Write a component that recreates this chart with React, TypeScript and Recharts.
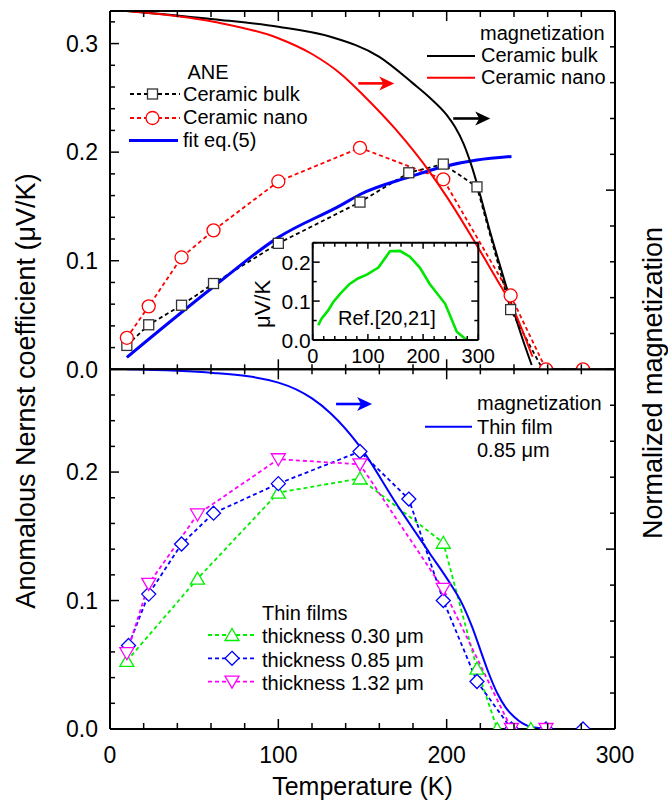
import React from 'react';
import { ComposedChart, LineChart, Line, XAxis, YAxis, ReferenceDot } from 'recharts';

const FONT = '"Liberation Sans", Arial, Helvetica, sans-serif';

// ---------- ticks ----------
const xTicks = [0, 20, 40, 60, 80, 100, 120, 140, 160, 180, 200, 220, 240, 260, 280, 300];
const xMajor = [0, 100, 200, 300];
const xLabels = ['0', '100', '200', '300'];
const topYTicks = [0, 0.02, 0.04, 0.06, 0.08, 0.1, 0.12, 0.14, 0.16, 0.18, 0.2, 0.22, 0.24, 0.26, 0.28, 0.3, 0.32];
const topYMajor = [0, 0.1, 0.2, 0.3];
const topYLabels = ['0.0', '0.1', '0.2', '0.3'];
const botYTicks = [0, 0.02, 0.04, 0.06, 0.08, 0.1, 0.12, 0.14, 0.16, 0.18, 0.2, 0.22, 0.24, 0.26];
const botYMajor = [0, 0.1, 0.2];
const botYLabels = ['0.0', '0.1', '0.2'];
const magTicks = [0, 0.1, 0.2, 0.3, 0.4, 0.5, 0.6, 0.7, 0.8, 0.9, 1];
const magMajor = [0, 0.5, 1];
const insetXTicks = [0, 20, 40, 60, 80, 100, 120, 140, 160, 180, 200, 220, 240, 260, 280, 300];
const insetXMajor = [0, 100, 200, 300];
const insetXLabels = ['0', '100', '200', '300'];
const insetYTicks = [0, 0.05, 0.1, 0.15, 0.2, 0.25];
const insetYMajor = [0, 0.1, 0.2];
const insetYLabels = ['0.0', '0.1', '0.2'];

// ---------- top panel data ----------
const bulkT = [10, 23, 42.5, 61.5, 100, 148.5, 177.5, 198, 218, 238, 257];
const bulkANE = [0.022, 0.041, 0.059, 0.079, 0.116, 0.154, 0.181, 0.189, 0.168, 0.055, 0];
const nanoT = [10, 23, 42.5, 61.5, 100, 148.5, 198, 238, 259, 281];
const nanoANE = [0.029, 0.058, 0.103, 0.128, 0.173, 0.204, 0.175, 0.068, 0, 0];
const fitT = [10, 61.5, 100, 137, 148.5, 177.5, 198, 218, 238.5];
const fitANE = [0.011, 0.076, 0.1215, 0.151, 0.161, 0.177, 0.1866, 0.1927, 0.196];
const magBulkT = [10, 61.5, 100, 131, 160, 180, 190, 200, 205, 210, 215, 220, 226, 232, 238, 244, 250.5];
const magBulk = [1.0, 0.977, 0.956, 0.928, 0.872, 0.798, 0.758, 0.71, 0.676, 0.63, 0.565, 0.485, 0.38, 0.285, 0.19, 0.1, 0.012];
const magNanoT = [10, 61.5, 100, 120, 137, 150.5, 170, 190.5, 200, 216, 230, 238, 251];
const magNano = [1.0, 0.97, 0.924, 0.88, 0.825, 0.765, 0.668, 0.547, 0.482, 0.361, 0.249, 0.184, 0.035];

// ---------- inset data ----------
const refT = [10, 16, 28, 37, 50, 67, 82, 98, 119, 140, 158, 176, 194, 212, 240, 261, 279];
const refANE = [0.038, 0.055, 0.076, 0.097, 0.119, 0.144, 0.158, 0.168, 0.186, 0.228, 0.229, 0.214, 0.186, 0.144, 0.093, 0.021, 0.0];

// ---------- bottom panel data ----------
const f30T = [10, 52, 100, 148.5, 198, 218, 230, 250];
const f30 = [0.053, 0.117, 0.184, 0.195, 0.145, 0.047, 0.0, 0.0];
const f85T = [11, 23, 42.5, 61.5, 100, 148.5, 177.5, 198, 218, 238.5, 259, 281];
const f85 = [0.065, 0.105, 0.144, 0.168, 0.191, 0.216, 0.179, 0.1, 0.037, 0, 0, 0];
const f132T = [10, 23, 52, 100, 148.5, 198, 238.5, 259];
const f132 = [0.059, 0.113, 0.167, 0.21, 0.206, 0.109, 0, 0];
const filmMagT = [10, 61.5, 100, 120, 131, 148.5, 170, 190, 202, 209, 215, 220, 225, 230, 235, 240, 250, 261];
const filmMag = [1.0, 0.99, 0.963, 0.919, 0.878, 0.785, 0.627, 0.488, 0.405, 0.35, 0.285, 0.22, 0.155, 0.1, 0.06, 0.034, 0.006, 0];

// arrows (start T, normalized magnetization)
const arrowRed = { T: 147.5, m: 0.798 };
const arrowBlack = { T: 203.9, m: 0.7 };
const arrowBlue = { T: 134.3, m: 0.9035 };

const zip = (xs: number[], ys: number[]) => xs.map((T, i) => ({ T, v: ys[i] }));

type Dir = 'up' | 'down' | 'left' | 'right';
function makeTick(
  dir: Dir,
  major: number[],
  majorLen: number,
  minorLen: number,
  label?: { labels: string[]; size: number; off: number }
) {
  return (p: any) => {
    const v = Number(p.payload?.value);
    const mi = major.findIndex((m) => Math.abs(m - v) < 1e-9);
    const isMajor = mi >= 0;
    const len = isMajor ? majorLen : minorLen;
    const x = p.x;
    const y = p.y;
    const dx = dir === 'left' ? -len : dir === 'right' ? len : 0;
    const dy = dir === 'up' ? -len : dir === 'down' ? len : 0;
    let txt: any = null;
    if (label && isMajor) {
      if (dir === 'up' || dir === 'down') {
        txt = (
          <text x={x} y={y + label.off} textAnchor="middle" fontSize={label.size} fontFamily={FONT} fill="#000">
            {label.labels[mi]}
          </text>
        );
      } else {
        txt = (
          <text x={x - label.off} y={y} dy="0.36em" textAnchor="end" fontSize={label.size} fontFamily={FONT} fill="#000">
            {label.labels[mi]}
          </text>
        );
      }
    }
    return (
      <g key={`tk-${dir}-${v}`}>
        <line x1={x} y1={y} x2={x + dx} y2={y + dy} stroke="#000" strokeWidth={1.5} />
        {txt}
      </g>
    );
  };
}

const AX = { stroke: '#000', strokeWidth: 2 };

const Square = ({ cx, cy }: any) => (
  <rect x={cx - 5} y={cy - 5} width={10} height={10} fill="#fff" stroke="#333" strokeWidth={1.3} />
);
const Circ = ({ cx, cy }: any) => <circle cx={cx} cy={cy} r={6.5} fill="#fff" stroke="#ff0000" strokeWidth={1.3} />;
const TriUp = ({ cx, cy, color }: any) => (
  <polygon points={`${cx},${cy - 6.5} ${cx - 7},${cy + 5.5} ${cx + 7},${cy + 5.5}`} fill="#fff" stroke={color} strokeWidth={1.3} />
);
const TriDown = ({ cx, cy, color }: any) => (
  <polygon points={`${cx - 7},${cy - 5.5} ${cx + 7},${cy - 5.5} ${cx},${cy + 6.5}`} fill="#fff" stroke={color} strokeWidth={1.3} />
);
const Diamond = ({ cx, cy, color }: any) => (
  <polygon points={`${cx},${cy - 7} ${cx + 7},${cy} ${cx},${cy + 7} ${cx - 7},${cy}`} fill="#fff" stroke={color} strokeWidth={1.3} />
);

const squareDot = (p: any) =>
  p.value > 0 ? (
    <g key={`sq${p.index}`}>
      <Square cx={p.cx} cy={p.cy} />
    </g>
  ) : (
    <g key={`sq${p.index}`} />
  );
const circDot = (p: any) => (
  <g key={`ci${p.index}`}>
    <Circ cx={p.cx} cy={p.cy} />
  </g>
);
const triUpDot = (color: string) => (p: any) => (
  <g key={`tu${p.index}`}>
    <TriUp cx={p.cx} cy={p.cy} color={color} />
  </g>
);
const triDownDot = (color: string) => (p: any) => (
  <g key={`td${p.index}`}>
    <TriDown cx={p.cx} cy={p.cy} color={color} />
  </g>
);
const diamondDot = (color: string) => (p: any) => (
  <g key={`di${p.index}`}>
    <Diamond cx={p.cx} cy={p.cy} color={color} />
  </g>
);

const arrowShape = (color: string, len: number) => (p: any) => {
  const { cx, cy } = p;
  const tip = cx + len;
  return (
    <g>
      <line x1={cx} y1={cy} x2={tip - 8} y2={cy} stroke={color} strokeWidth={2.6} />
      <polygon points={`${tip},${cy} ${tip - 15},${cy - 7} ${tip - 11},${cy} ${tip - 15},${cy + 7}`} fill={color} />
    </g>
  );
};

const GREEN = '#00ee00';
const BLUE = '#0000ff';
const MAG = '#ff00ff';
const RED = '#ff0000';
const DASH = '4 3';

export default function App() {
  const bulkData = zip(bulkT, bulkANE);
  const nanoData = zip(nanoT, nanoANE);
  const fitData = zip(fitT, fitANE);
  const magBulkData = zip(magBulkT, magBulk);
  const magNanoData = zip(magNanoT, magNano);
  const refData = zip(refT, refANE);
  const f30Data = zip(f30T, f30);
  const f85Data = zip(f85T, f85);
  const f132Data = zip(f132T, f132);
  const filmMagData = zip(filmMagT, filmMag);

  const common = { tickSize: 0, tickMargin: 0, tickLine: false, axisLine: AX, interval: 0 as const, allowDataOverflow: true };

  return (
    <div style={{ position: 'absolute', left: 0, top: 0, width: 668, height: 802, background: '#fff', fontFamily: FONT }}>
      {/* top panel */}
      <div style={{ position: 'absolute', left: 0, top: 0 }}>
        <ComposedChart width={668} height={400} margin={{ top: 10, right: 0, bottom: 0, left: 0 }}>
          <XAxis
            xAxisId="x"
            dataKey="T"
            type="number"
            domain={[0, 300]}
            ticks={xTicks}
            orientation="bottom"
            height={30.7}
            tick={makeTick('up', xMajor, 10, 5)}
            {...common}
          />
          <XAxis
            xAxisId="xt"
            dataKey="T"
            type="number"
            domain={[0, 300]}
            ticks={xTicks}
            orientation="top"
            height={1}
            tick={makeTick('down', xMajor, 10, 6)}
            {...common}
          />
          <YAxis
            yAxisId="l"
            type="number"
            domain={[0, 0.33]}
            ticks={topYTicks}
            width={110}
            tick={makeTick('right', topYMajor, 9, 5, { labels: topYLabels, size: 23, off: 12 })}
            {...common}
          />
          <YAxis
            yAxisId="r"
            orientation="right"
            type="number"
            domain={[0, 1]}
            ticks={magTicks}
            width={53}
            tick={makeTick('left', magMajor, 9, 5)}
            {...common}
          />
          <Line data={bulkData} dataKey="v" xAxisId="x" yAxisId="l" type="linear" stroke="#000" strokeWidth={1.8} strokeDasharray={DASH} dot={squareDot} isAnimationActive={false} />
          <Line data={nanoData} dataKey="v" xAxisId="x" yAxisId="l" type="linear" stroke={RED} strokeWidth={1.8} strokeDasharray={DASH} dot={circDot} isAnimationActive={false} />
          <Line data={fitData} dataKey="v" xAxisId="x" yAxisId="l" type="monotone" stroke={BLUE} strokeWidth={3} dot={false} isAnimationActive={false} />
          <Line data={magBulkData} dataKey="v" xAxisId="x" yAxisId="r" type="monotone" stroke="#000" strokeWidth={2} dot={false} isAnimationActive={false} />
          <Line data={magNanoData} dataKey="v" xAxisId="x" yAxisId="r" type="monotone" stroke={RED} strokeWidth={2} dot={false} isAnimationActive={false} />
          <ReferenceDot xAxisId="x" yAxisId="r" x={arrowRed.T} y={arrowRed.m} shape={arrowShape(RED, 36)} />
          <ReferenceDot xAxisId="x" yAxisId="r" x={arrowBlack.T} y={arrowBlack.m} shape={arrowShape('#000', 37)} />
        </ComposedChart>
      </div>

      {/* bottom panel */}
      <div style={{ position: 'absolute', left: 0, top: 360 }}>
        <ComposedChart width={668} height={442} margin={{ top: 8.3, right: 0, bottom: 0, left: 0 }}>
          <XAxis
            xAxisId="x"
            dataKey="T"
            type="number"
            domain={[0, 300]}
            ticks={xTicks}
            orientation="bottom"
            height={73}
            tick={makeTick('up', xMajor, 10, 6, { labels: xLabels, size: 23, off: 34 })}
            {...common}
          />
          <XAxis
            xAxisId="xt"
            dataKey="T"
            type="number"
            domain={[0, 300]}
            ticks={xTicks}
            orientation="top"
            height={1}
            tick={makeTick('down', xMajor, 10, 5)}
            {...common}
          />
          <YAxis
            yAxisId="l"
            type="number"
            domain={[0, 0.28]}
            ticks={botYTicks}
            width={110}
            tick={makeTick('right', botYMajor, 9, 5, { labels: botYLabels, size: 23, off: 12 })}
            {...common}
          />
          <YAxis
            yAxisId="r"
            orientation="right"
            type="number"
            domain={[0, 1]}
            ticks={magTicks}
            width={53}
            tick={makeTick('left', magMajor, 9, 5)}
            {...common}
          />
          <Line data={f30Data} dataKey="v" xAxisId="x" yAxisId="l" type="linear" stroke={GREEN} strokeWidth={1.8} strokeDasharray={DASH} dot={triUpDot(GREEN)} isAnimationActive={false} />
          <Line data={f85Data} dataKey="v" xAxisId="x" yAxisId="l" type="linear" stroke={BLUE} strokeWidth={1.8} strokeDasharray={DASH} dot={diamondDot(BLUE)} isAnimationActive={false} />
          <Line data={f132Data} dataKey="v" xAxisId="x" yAxisId="l" type="linear" stroke={MAG} strokeWidth={1.8} strokeDasharray={DASH} dot={triDownDot(MAG)} isAnimationActive={false} />
          <Line data={filmMagData} dataKey="v" xAxisId="x" yAxisId="r" type="monotone" stroke={BLUE} strokeWidth={2} dot={false} isAnimationActive={false} />
          <ReferenceDot xAxisId="x" yAxisId="r" x={arrowBlue.T} y={arrowBlue.m} shape={arrowShape(BLUE, 36)} />
        </ComposedChart>
      </div>

      {/* inset */}
      <div style={{ position: 'absolute', left: 250, top: 235 }}>
        <LineChart width={270} height={135} margin={{ top: 6.7, right: 30, bottom: 0, left: 0 }}>
          <XAxis
            xAxisId="x"
            dataKey="T"
            type="number"
            domain={[0, 300]}
            ticks={insetXTicks}
            orientation="bottom"
            height={30}
            tick={makeTick('up', insetXMajor, 6, 4, { labels: insetXLabels, size: 20, off: 23 })}
            {...common}
          />
          <XAxis
            xAxisId="xt"
            dataKey="T"
            type="number"
            domain={[0, 300]}
            ticks={insetXTicks}
            orientation="top"
            height={1}
            tick={makeTick('down', insetXMajor, 6, 4)}
            {...common}
          />
          <YAxis
            yAxisId="l"
            type="number"
            domain={[0, 0.25]}
            ticks={insetYTicks}
            width={62.7}
            tick={makeTick('right', insetYMajor, 7, 4, { labels: insetYLabels, size: 21, off: 2 })}
            {...common}
          />
          <YAxis
            yAxisId="r"
            orientation="right"
            type="number"
            domain={[0, 0.25]}
            ticks={insetYTicks}
            width={11.7}
            tick={makeTick('left', insetYMajor, 7, 4)}
            {...common}
          />
          <Line data={refData} dataKey="v" xAxisId="x" yAxisId="l" type="linear" stroke="#00e600" strokeWidth={2.6} dot={false} isAnimationActive={false} />
        </LineChart>
      </div>

      {/* titles & legends */}
      <svg width={668} height={802} style={{ position: 'absolute', left: 0, top: 0, pointerEvents: 'none' }} fontFamily={FONT}>
        <text transform="translate(35,391) rotate(-90)" textAnchor="middle" fontSize={27} fill="#000">
          Anomalous Nernst coefficient (μV/K)
        </text>
        <text transform="translate(661.5,383) rotate(-90)" textAnchor="middle" fontSize={27} fill="#000">
          Normalized magnetization
        </text>
        <text x={362.5} y={795} textAnchor="middle" fontSize={25} fill="#000">
          Temperature (K)
        </text>

        {/* inset texts */}
        <text transform="translate(270,304) rotate(-90)" textAnchor="middle" fontSize={22} fill="#000">
          μV/K
        </text>
        <text x={338} y={325} fontSize={20} fill="#000">
          Ref.[20,21]
        </text>

        {/* ANE legend */}
        <text x={208} y={79} textAnchor="middle" fontSize={20} fill="#000">
          ANE
        </text>
        <line x1={130} y1={94} x2={180} y2={94} stroke="#000" strokeWidth={1.8} strokeDasharray={DASH} />
        <Square cx={152.5} cy={94} />
        <text x={183} y={100.7} fontSize={20} fill="#000">
          Ceramic bulk
        </text>
        <line x1={130} y1={118} x2={180} y2={118} stroke={RED} strokeWidth={1.8} strokeDasharray={DASH} />
        <Circ cx={152.5} cy={118} />
        <text x={183} y={124} fontSize={20} fill="#000">
          Ceramic nano
        </text>
        <line x1={129} y1={140.5} x2={178} y2={140.5} stroke={BLUE} strokeWidth={3} />
        <text x={183} y={146.5} fontSize={20} fill="#000">
          fit eq.(5)
        </text>

        {/* magnetization legend top */}
        <text x={480} y={40} fontSize={20} fill="#000">
          magnetization
        </text>
        <line x1={427} y1={56} x2={475} y2={56} stroke="#000" strokeWidth={2} />
        <text x={481} y={61.7} fontSize={20} fill="#000">
          Ceramic bulk
        </text>
        <line x1={427} y1={77.7} x2={475} y2={77.7} stroke={RED} strokeWidth={2} />
        <text x={481} y={83.5} fontSize={20} fill="#000">
          Ceramic nano
        </text>

        {/* magnetization legend bottom */}
        <text x={477} y={410} fontSize={20} fill="#000">
          magnetization
        </text>
        <line x1={425} y1={426.7} x2={472} y2={426.7} stroke={BLUE} strokeWidth={2} />
        <text x={477} y={434} fontSize={20} fill="#000">
          Thin film
        </text>
        <text x={477} y={456.7} fontSize={20} fill="#000">
          0.85 μm
        </text>

        {/* thin films legend */}
        <text x={262} y={620} fontSize={20} fill="#000">
          Thin films
        </text>
        <line x1={208} y1={635} x2={254} y2={635} stroke={GREEN} strokeWidth={1.8} strokeDasharray={DASH} />
        <TriUp cx={232} cy={635} color={GREEN} />
        <text x={262} y={643} fontSize={20} fill="#000">
          thickness 0.30 μm
        </text>
        <line x1={208} y1={658.3} x2={254} y2={658.3} stroke={BLUE} strokeWidth={1.8} strokeDasharray={DASH} />
        <Diamond cx={232} cy={658.3} color={BLUE} />
        <text x={262} y={666.5} fontSize={20} fill="#000">
          thickness 0.85 μm
        </text>
        <line x1={208} y1={681.7} x2={254} y2={681.7} stroke={MAG} strokeWidth={1.8} strokeDasharray={DASH} />
        <TriDown cx={232} cy={681.7} color={MAG} />
        <text x={262} y={690} fontSize={20} fill="#000">
          thickness 1.32 μm
        </text>
      </svg>
    </div>
  );
}
